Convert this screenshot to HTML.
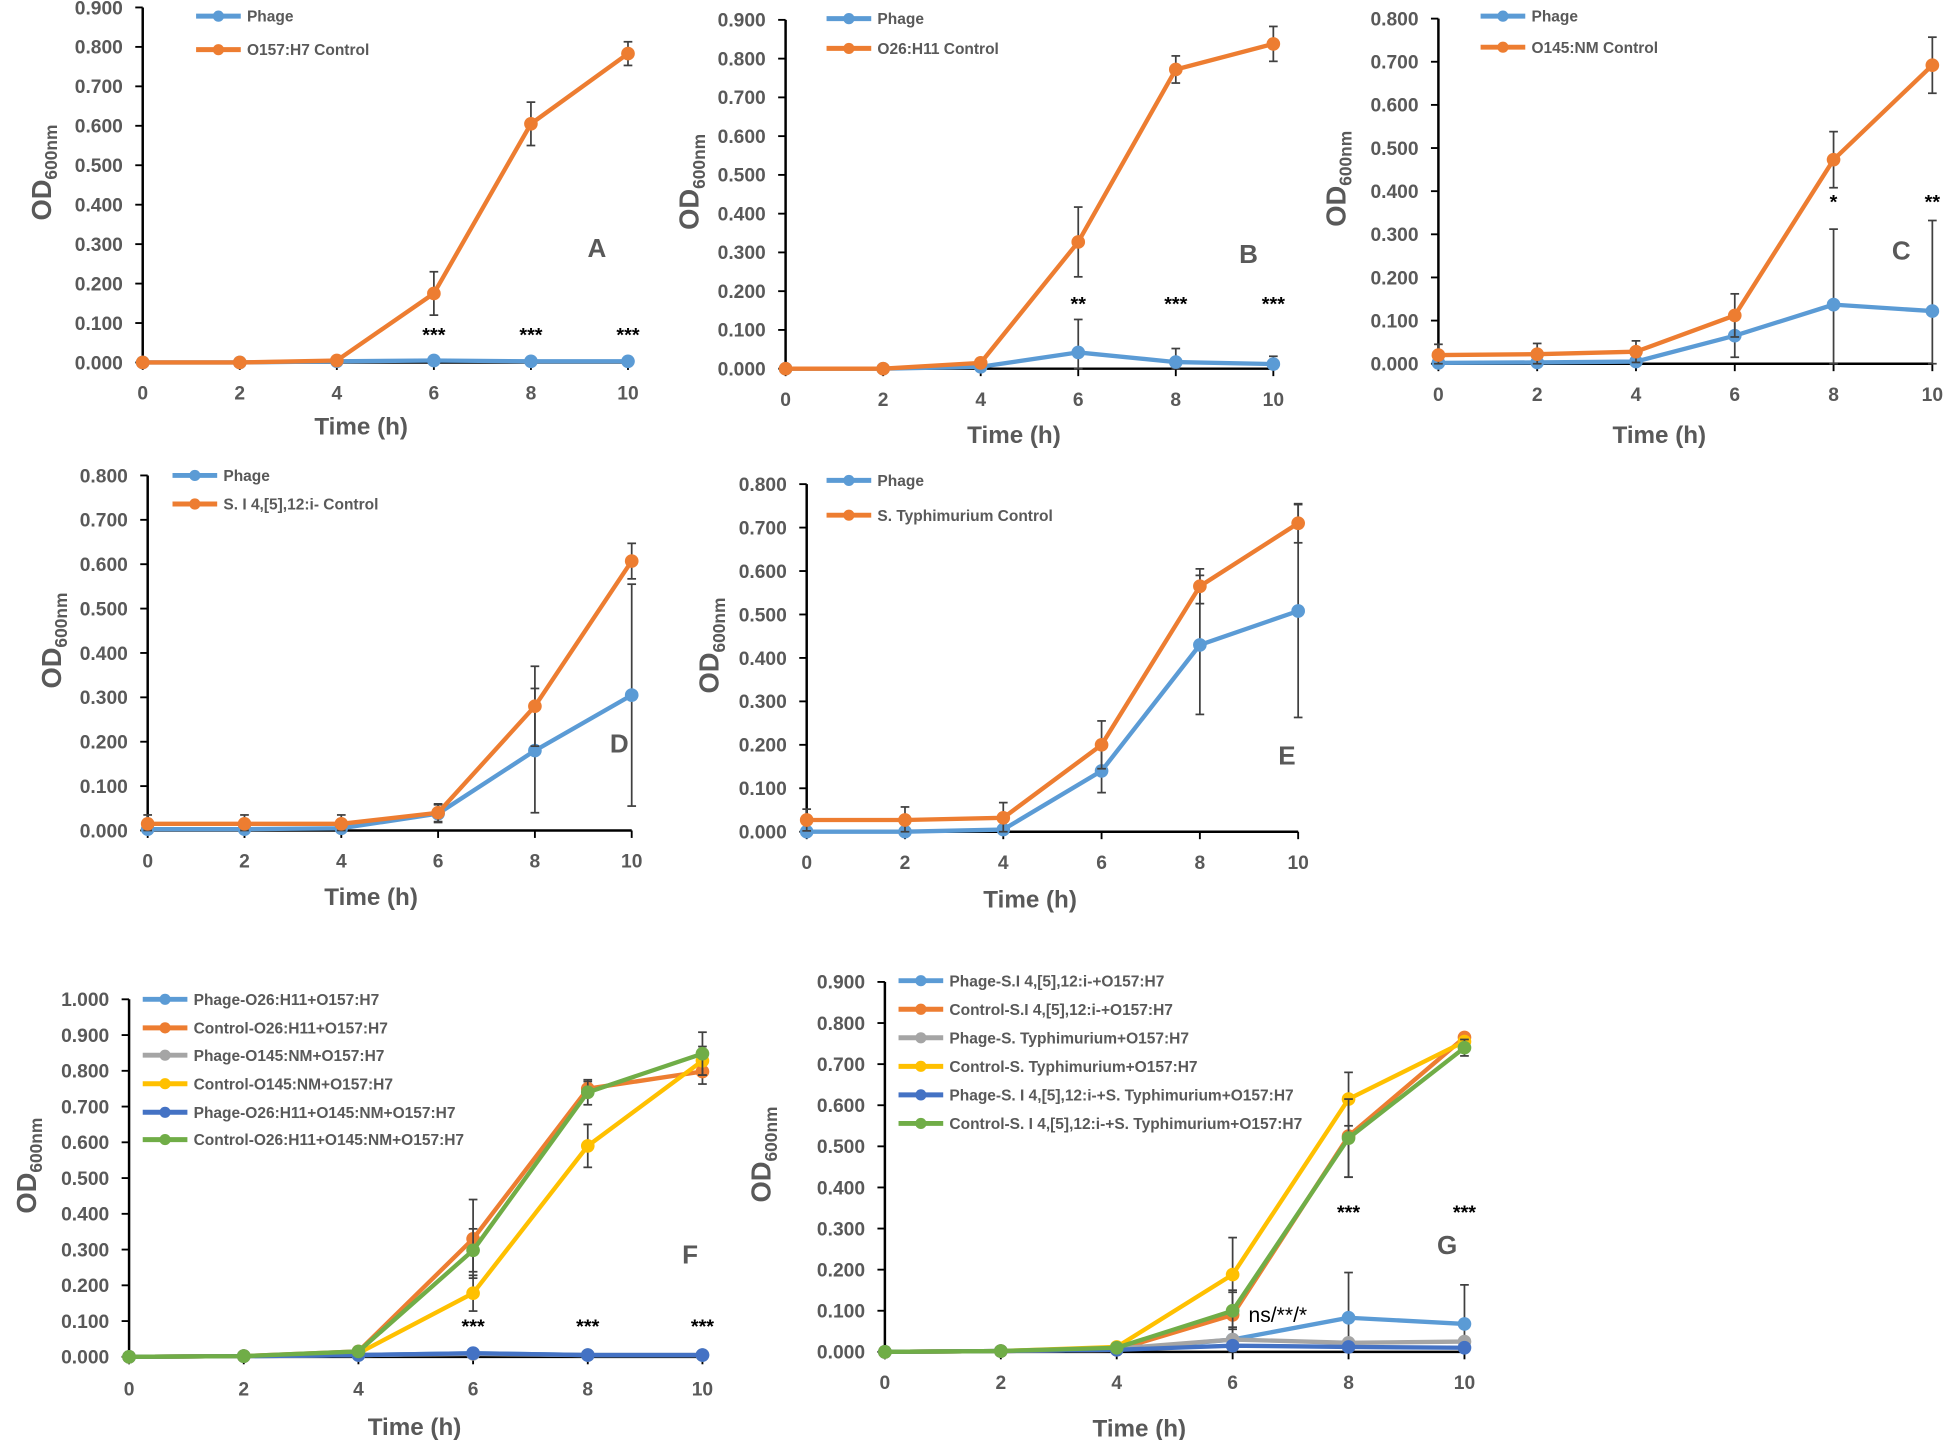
<!DOCTYPE html>
<html><head><meta charset="utf-8"><style>
html,body{margin:0;padding:0;background:#fff;}
svg{display:block;font-family:"Liberation Sans",sans-serif;}
</style></head><body>
<svg id="fig" width="1946" height="1440" viewBox="0 0 1568 1160" preserveAspectRatio="none" xmlns="http://www.w3.org/2000/svg"></svg>
<script>
// ---- data ----
const times = [0, 2, 4, 6, 8, 10];
const xTickLabels = ["0","2","4","6","8","10"];
// Panel A
const aPhage = [0, 0, 0.003, 0.005, 0.003, 0.003];
const aPhageErr = [0, 0, 0, 0, 0, 0];
const aControl = [0, 0, 0.005, 0.175, 0.605, 0.783];
const aControlErr = [0, 0, 0, 0.055, 0.055, 0.03];
// Panel B
const bPhage = [0, 0, 0.005, 0.042, 0.017, 0.012];
const bPhageErr = [0, 0, 0, 0.085, 0.035, 0.02];
const bControl = [0, 0, 0.015, 0.327, 0.772, 0.838];
const bControlErr = [0, 0, 0, 0.09, 0.035, 0.045];
// Panel C
const cPhage = [0.002, 0.003, 0.005, 0.065, 0.137, 0.122];
const cPhageErr = [0, 0, 0, 0.05, 0.175, 0.21];
const cControl = [0.02, 0.022, 0.028, 0.112, 0.473, 0.692];
const cControlErr = [0.025, 0.025, 0.025, 0.05, 0.065, 0.065];
// Panel D
const dPhage = [0.003, 0.003, 0.005, 0.038, 0.18, 0.305];
const dPhageErr = [0, 0, 0, 0.02, 0.14, 0.25];
const dControl = [0.015, 0.015, 0.015, 0.04, 0.28, 0.607];
const dControlErr = [0.02, 0.02, 0.02, 0.02, 0.09, 0.04];
// Panel E
const ePhage = [0, 0, 0.005, 0.14, 0.43, 0.508];
const ePhageErr = [0, 0, 0, 0.05, 0.16, 0.245];
const eControl = [0.027, 0.027, 0.032, 0.2, 0.565, 0.71];
const eControlErr = [0.025, 0.03, 0.035, 0.055, 0.04, 0.045];
// Panel F
const fPhageO26 = [0, 0.002, 0.005, 0.01, 0.005, 0.005];
const fControlO26 = [0, 0.002, 0.015, 0.33, 0.75, 0.798];
const fControlO26Err = [0, 0, 0, 0.11, 0.02, 0.035];
const fPhageO145 = [0, 0.002, 0.005, 0.008, 0.005, 0.005];
const fControlO145 = [0, 0.002, 0.01, 0.178, 0.59, 0.828];
const fControlO145Err = [0, 0, 0, 0.05, 0.06, 0.04];
const fPhageBoth = [0, 0.002, 0.005, 0.01, 0.005, 0.005];
const fPhageBothErr = [0, 0, 0, 0.012, 0, 0];
const fControlBoth = [0, 0.002, 0.015, 0.298, 0.74, 0.848];
const fControlBothErr = [0, 0, 0, 0.06, 0.035, 0.06];
// Panel G
const gPhageSI = [0, 0.002, 0.005, 0.03, 0.083, 0.068];
const gPhageSIErr = [0, 0, 0, 0.03, 0.11, 0.095];
const gControlSI = [0, 0.002, 0.005, 0.09, 0.525, 0.765];
const gControlSIErr = [0, 0, 0, 0.06, 0.1, 0.01];
const gPhageST = [0, 0.002, 0.008, 0.03, 0.022, 0.025];
const gControlST = [0, 0.002, 0.012, 0.188, 0.615, 0.755];
const gControlSTErr = [0, 0, 0, 0.09, 0.065, 0.01];
const gPhageBoth = [0, 0.002, 0.005, 0.015, 0.012, 0.01];
const gControlBoth = [0, 0.002, 0.01, 0.1, 0.52, 0.74];
const gControlBothErr = [0, 0, 0, 0.045, 0.095, 0.02];

const C = {lb:"#5B9BD5", or:"#ED7D31", gr:"#A5A5A5", ye:"#FFC000", db:"#4472C4", gn:"#70AD47"};
const NS = "http://www.w3.org/2000/svg";
const svg = document.getElementById('fig');
function mk(tag, attrs, parent){
  const e = document.createElementNS(NS, tag);
  for (const k in attrs) e.setAttribute(k, attrs[k]);
  (parent||svg).appendChild(e);
  return e;
}

const panels = [
 {id:"a", x0:115, x10:506, y0:292, yTop:6, yMax:0.9, step:0.1, dec:3, letter:"A", lx:481, ly:207, yTitleX:34, xLabY:322, titleX:291, titleY:350,
  legX:158, legYs:[13,40], series:[
   {name:"Phage", v:aPhage, e:aPhageErr, c:C.lb},
   {name:"O157:H7 Control", v:aControl, e:aControlErr, c:C.or}],
  stars:[[6,"***",275],[8,"***",275],[10,"***",275]]},
 {id:"b", x0:633, x10:1026, y0:297, yTop:16, yMax:0.9, step:0.1, dec:3, letter:"B", lx:1006, ly:212, yTitleX:556, xLabY:327, titleX:817, titleY:357,
  legX:666, legYs:[15,39], series:[
   {name:"Phage", v:bPhage, e:bPhageErr, c:C.lb},
   {name:"O26:H11 Control", v:bControl, e:bControlErr, c:C.or}],
  stars:[[6,"**",250],[8,"***",250],[10,"***",250]]},
 {id:"c", x0:1159, x10:1557, y0:293, yTop:15, yMax:0.8, step:0.1, dec:3, letter:"C", lx:1532, ly:209, yTitleX:1077, xLabY:323, titleX:1337, titleY:357,
  legX:1193, legYs:[13,38], series:[
   {name:"Phage", v:cPhage, e:cPhageErr, c:C.lb},
   {name:"O145:NM Control", v:cControl, e:cControlErr, c:C.or}],
  stars:[[8,"*",168],[10,"**",168]]},
 {id:"d", x0:119, x10:509, y0:669, yTop:383, yMax:0.8, step:0.1, dec:3, letter:"D", lx:499, ly:606, yTitleX:42, xLabY:699, titleX:299, titleY:729,
  legX:139, legYs:[383,406], series:[
   {name:"Phage", v:dPhage, e:dPhageErr, c:C.lb},
   {name:"S. I 4,[5],12:i- Control", v:dControl, e:dControlErr, c:C.or}],
  stars:[]},
 {id:"e", x0:650, x10:1046, y0:670, yTop:390, yMax:0.8, step:0.1, dec:3, letter:"E", lx:1037, ly:616, yTitleX:572, xLabY:700, titleX:830, titleY:731,
  legX:666, legYs:[387,415], series:[
   {name:"Phage", v:ePhage, e:ePhageErr, c:C.lb},
   {name:"S. Typhimurium Control", v:eControl, e:eControlErr, c:C.or}],
  stars:[]},
 {id:"f", x0:104, x10:566, y0:1093, yTop:805, yMax:1.0, step:0.1, dec:3, letter:"F", lx:556, ly:1018, yTitleX:22, xLabY:1124, titleX:334, titleY:1156,
  legX:115, legYs:[805,828,850,873,896,918], series:[
   {name:"Phage-O26:H11+O157:H7", v:fPhageO26, c:C.lb},
   {name:"Control-O26:H11+O157:H7", v:fControlO26, e:fControlO26Err, c:C.or},
   {name:"Phage-O145:NM+O157:H7", v:fPhageO145, c:C.gr},
   {name:"Control-O145:NM+O157:H7", v:fControlO145, e:fControlO145Err, c:C.ye},
   {name:"Phage-O26:H11+O145:NM+O157:H7", v:fPhageBoth, e:fPhageBothErr, c:C.db},
   {name:"Control-O26:H11+O145:NM+O157:H7", v:fControlBoth, e:fControlBothErr, c:C.gn}],
  stars:[[6,"***",1074],[8,"***",1074],[10,"***",1074]]},
 {id:"g", x0:713, x10:1180, y0:1089, yTop:791, yMax:0.9, step:0.1, dec:3, letter:"G", lx:1166, ly:1010, yTitleX:614, xLabY:1119, titleX:918, titleY:1157,
  legX:724, legYs:[790,813,836,859,882,905], series:[
   {name:"Phage-S.I 4,[5],12:i-+O157:H7", v:gPhageSI, e:gPhageSIErr, c:C.lb},
   {name:"Control-S.I 4,[5],12:i-+O157:H7", v:gControlSI, e:gControlSIErr, c:C.or},
   {name:"Phage-S. Typhimurium+O157:H7", v:gPhageST, c:C.gr},
   {name:"Control-S. Typhimurium+O157:H7", v:gControlST, e:gControlSTErr, c:C.ye},
   {name:"Phage-S. I 4,[5],12:i-+S. Typhimurium+O157:H7", v:gPhageBoth, c:C.db},
   {name:"Control-S. I 4,[5],12:i-+S. Typhimurium+O157:H7", v:gControlBoth, e:gControlBothErr, c:C.gn}],
  stars:[[8,"***",982],[10,"***",982]]}
];

panels.forEach(p=>{
  const g = mk('g', {});
  
  
  const xs = t => p.x0 + (t/10)*(p.x10-p.x0);
  const ys = v => p.y0 - (v/p.yMax)*(p.y0-p.yTop);
  const ya = mk('line', {x1:p.x0, y1:p.yTop, x2:p.x0, y2:p.y0, stroke:"#000", "stroke-width":2}, g);
  
  
  const xa = mk('line', {x1:p.x0, y1:p.y0, x2:p.x10, y2:p.y0, stroke:"#000", "stroke-width":2}, g);
  
  
  const n = Math.round(p.yMax/p.step);
  for (let i=0;i<=n;i++){
    const v = i*p.step, y = ys(v);
    mk('line', {x1:p.x0-6, y1:y, x2:p.x0, y2:y, stroke:"#000", "stroke-width":1.5}, g);
    const t = mk('text', {x:p.x0-16, y:y+5.5, "text-anchor":"end", "font-size":15.5, "font-weight":"bold", fill:"#595959"}, g);
    t.textContent = v.toFixed(p.dec);
    
    
  }
  times.forEach((tm,i)=>{
    const x = xs(tm);
    mk('line', {x1:x, y1:p.y0, x2:x, y2:p.y0+6, stroke:"#000", "stroke-width":1.5}, g);
    const t = mk('text', {x:x, y:p.xLabY, "text-anchor":"middle", "font-size":15.5, "font-weight":"bold", fill:"#595959"}, g);
    t.textContent = xTickLabels[i];
    
    
  });
  const xt = mk('text', {x:p.titleX, y:p.titleY, "text-anchor":"middle", "font-size":19.5, "font-weight":"bold", fill:"#595959"}, g);
  xt.textContent = "Time (h)";
  
  
  const cy = (p.y0+p.yTop)/2 - 10;
  const yt = mk('text', {x:0, y:0, transform:`translate(${p.yTitleX+7},${cy}) rotate(-90)`, "text-anchor":"middle", "font-size":22, "font-weight":"bold", fill:"#595959"}, g);
  
  
  yt.appendChild(document.createTextNode("OD"));
  const sub = mk('tspan', {"font-size":14, dy:5}, yt);
  sub.textContent = "600nm";
  p.series.forEach(s=>{
    const sg = mk('g', {}, g);
    
    
    if (s.e){
      s.v.forEach((v,i)=>{
        const e = s.e[i]; if (!e) return;
        const x = xs(times[i]);
        const y1 = ys(v+e), y2 = ys(Math.max(0,v-e));
        mk('line', {x1:x, y1:y1, x2:x, y2:y2, stroke:"#404040", "stroke-width":1.4}, sg);
        mk('line', {x1:x-3.5, y1:y1, x2:x+3.5, y2:y1, stroke:"#404040", "stroke-width":1.4}, sg);
        mk('line', {x1:x-3.5, y1:y2, x2:x+3.5, y2:y2, stroke:"#404040", "stroke-width":1.4}, sg);
      });
    }
    const pts = s.v.map((v,i)=>xs(times[i])+","+ys(v)).join(" ");
    const pl = mk('polyline', {points:pts, fill:"none", stroke:s.c, "stroke-width":3.5, "stroke-linejoin":"round"}, sg);
    
    
    s.v.forEach((v,i)=>{
      const c = mk('circle', {cx:xs(times[i]), cy:ys(v), r:5.5, fill:s.c}, sg);
      
      
    });
  });
  p.series.forEach((s,i)=>{
    const y = p.legYs[i];
    const lg = mk('g', {}, g);
    
    
    mk('line', {x1:p.legX, y1:y, x2:p.legX+36, y2:y, stroke:s.c, "stroke-width":4}, lg);
    mk('circle', {cx:p.legX+18, cy:y, r:4.5, fill:s.c}, lg);
    const t = mk('text', {x:p.legX+41, y:y+4.5, "font-size":12.5, "font-weight":"bold", fill:"#595959"}, lg);
    t.textContent = s.name;
  });
  const L = mk('text', {x:p.lx, y:p.ly, "text-anchor":"middle", "font-size":21, "font-weight":"bold", fill:"#595959"}, g);
  L.textContent = p.letter;
  
  
  p.stars.forEach(st=>{
    const t = mk('text', {x:xs(st[0]), y:st[2], "text-anchor":"middle", "font-size":16, "font-weight":"bold", fill:"#000"}, g);
    t.textContent = st[1];
    
    
  });
  if (p.id==="g"){
    const t = mk('text', {x:1006, y:1065, "text-anchor":"start", "font-size":17, fill:"#000"}, g);
    t.textContent = "ns/**/*";
    
    
  }
});
</script>
</body></html>
